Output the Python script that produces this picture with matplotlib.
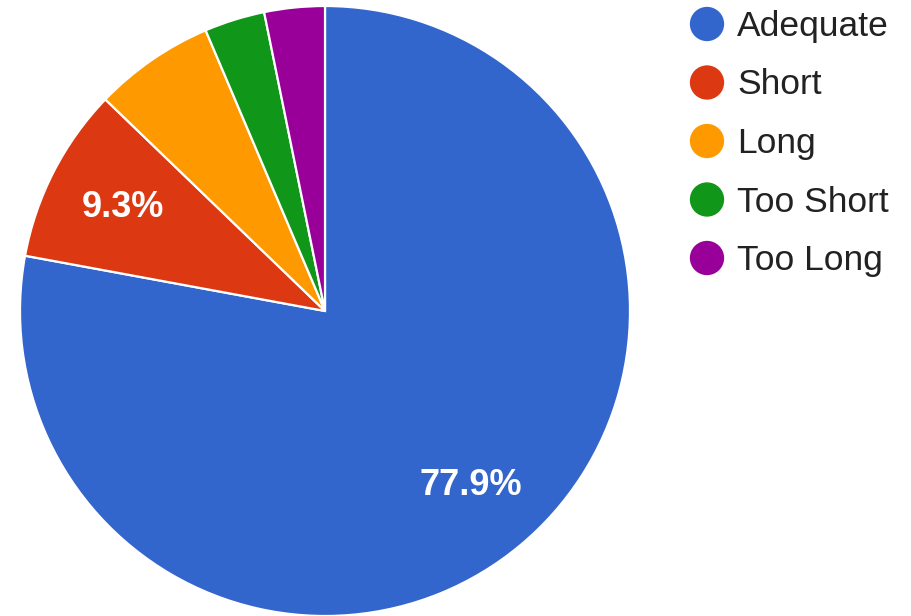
import matplotlib
import matplotlib.pyplot as plt

matplotlib.use('Agg')

labels = ['Adequate', 'Short', 'Long', 'Too Short', 'Too Long']
shares = [77.9, 9.3, 6.4, 3.2, 3.2]
colors = ['#3366CC', '#DC3912', '#FF9900', '#109618', '#990099']

plt.rcParams['font.family'] = ['Liberation Sans', 'DejaVu Sans']

W, H = 911, 616
fig = plt.figure(figsize=(W / 100, H / 100), dpi=100)

# pie: centre (325, 311) px, radius 305 px
ax = fig.add_axes([20 / W, 0, 610 / W, 610 / H])


def pct(p):
    # google only labels slices big enough to hold the text
    return '%.1f%%' % p if p >= 9 else ''


wedges, texts, autotexts = ax.pie(
    shares, colors=colors, startangle=90, counterclock=False,
    autopct=pct, pctdistance=0.745, radius=1,
    wedgeprops=dict(edgecolor='white', linewidth=1.6),
    textprops=dict(color='white', fontsize=26, fontweight='semibold'))
ax.set_xlim(-1, 1)
ax.set_ylim(-1, 1)
ax.set_aspect('equal')
ax.axis('off')

# legend drawn in pixel coords
leg = fig.add_axes([0, 0, 1, 1])
leg.set_xlim(0, W)
leg.set_ylim(H, 0)
leg.axis('off')
for i, (name, c) in enumerate(zip(labels, colors)):
    y = 24 + i * 58.5
    leg.scatter([707], [y], s=610, color=c, edgecolors='none')
    leg.text(737, y + 12, name, fontsize=25.5, color='#222222',
             va='baseline', ha='left')

fig.savefig('out.png', dpi=100)
